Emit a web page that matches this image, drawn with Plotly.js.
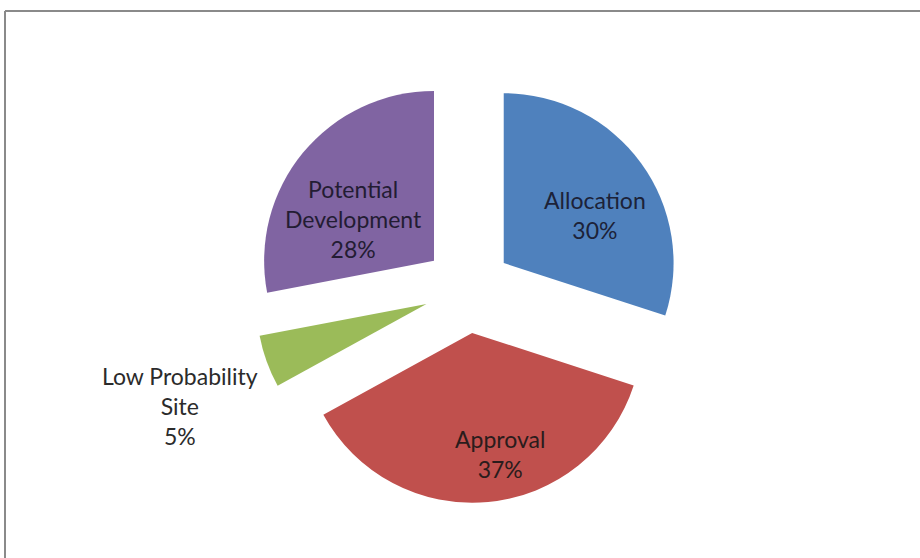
<!DOCTYPE html>
<html>
<head>
<meta charset="utf-8">
<script src="https://cdn.plot.ly/plotly-3.0.1.min.js"></script>
<style>html,body{margin:0;padding:0;background:#fff;}#chart{width:920px;height:558px;}</style>
</head>
<body>
<div id="chart"></div>
<script>
const categories = ["Allocation", "Approval", "Low Probability Site", "Potential Development"];
const displayLabels = ["Allocation", "Approval", "Low Probability<br>Site", "Potential<br>Development"];
const values = [30, 37, 5, 28];
const colors = ["#4F81BD", "#C0504D", "#9BBB59", "#8064A2"];
const pulls = [0.26, 0.26, 0.26, 0.26];

const W = 920, H = 558;
const FONT = "Lato, 'Open Sans', sans-serif";

// label anchor positions (pixels) – layout only
const labelPos = [[595, 215], [500, 454], [180, 406], [353, 219]];
const labelColors = ["#1c2238", "#2a1c1c", "#2b2b2b", "#231c33"];

const total = values.reduce((a, b) => a + b, 0);
const annotations = categories.map((c, i) => ({
  xref: "paper", yref: "paper",
  x: labelPos[i][0] / W, y: 1 - labelPos[i][1] / H,
  xanchor: "center", yanchor: "middle",
  text: displayLabels[i] + "<br>" + Math.round(values[i] / total * 100) + "%",
  showarrow: false,
  align: "center",
  font: {family: FONT, size: 23, color: labelColors[i]}
}));

const trace = {
  type: "pie",
  labels: categories,
  values: values,
  textinfo: "none",
  sort: false,
  direction: "clockwise",
  rotation: 0,
  pull: pulls,
  marker: {colors: colors, line: {width: 0}},
  domain: {x: [254 / W, 682 / W], y: [1 - 503 / H, 1 - 75 / H]},
  hoverinfo: "none",
  showlegend: false
};

const layout = {
  width: W, height: H,
  margin: {l: 0, r: 0, t: 0, b: 0},
  paper_bgcolor: "#ffffff",
  showlegend: false,
  annotations: annotations,
  shapes: [
    {type: "line", xref: "paper", yref: "paper", x0: 5 / W, x1: 1, y0: 1 - 11 / H, y1: 1 - 11 / H, line: {color: "#8a8a8a", width: 2}},
    {type: "line", xref: "paper", yref: "paper", x0: 5 / W, x1: 5 / W, y0: 0, y1: 1 - 11 / H, line: {color: "#8a8a8a", width: 2}}
  ]
};

Plotly.newPlot("chart", [trace], layout, {displayModeBar: false, staticPlot: true});
</script>
</body>
</html>
